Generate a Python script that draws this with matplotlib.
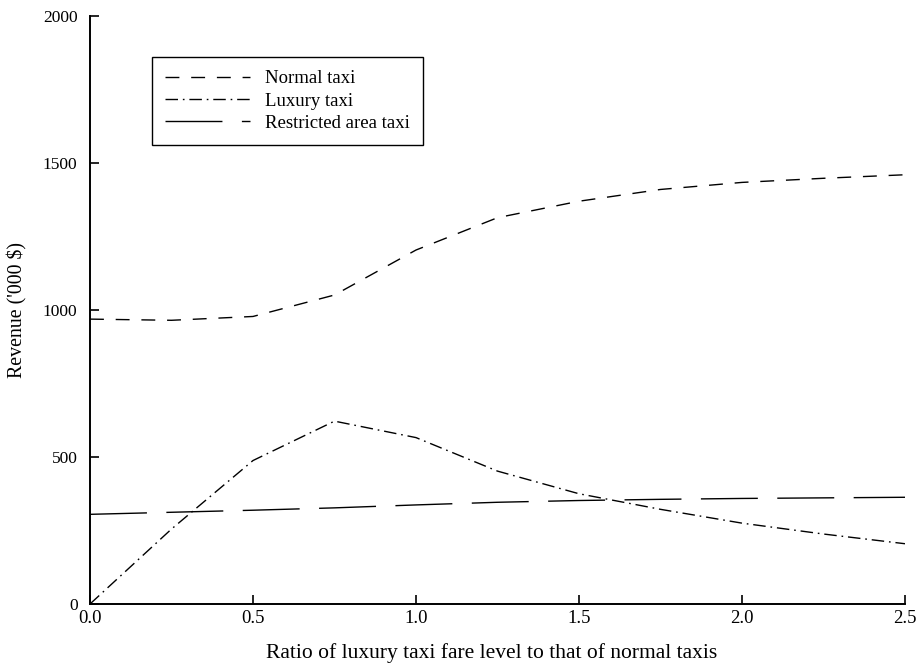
import matplotlib
matplotlib.use("Agg")
import matplotlib.pyplot as plt

plt.rcParams['font.family'] = ['Liberation Serif', 'DejaVu Serif']
plt.rcParams['lines.scale_dashes'] = False

# Fare ratio (luxury / normal) and revenue in thousand dollars
ratio = [0.0, 0.25, 0.5, 0.75, 1.0, 1.25, 1.5, 1.75, 2.0, 2.25, 2.5]
normal_taxi = [969, 965, 978, 1051, 1204, 1314, 1370, 1410, 1434, 1448, 1460]
luxury_taxi = [0, 255, 488, 622, 566, 452, 375, 322, 275, 238, 205]
restricted_taxi = [305, 312, 319, 327, 337, 346, 352, 356, 359, 361, 363]

labels = ["Normal taxi", "Luxury taxi", "Restricted area taxi"]
x_ticks = [0.0, 0.5, 1.0, 1.5, 2.0, 2.5]
y_ticks = [0, 500, 1000, 1500, 2000]

fig = plt.figure(figsize=(9.18, 6.65), dpi=100)
ax = fig.add_axes([90 / 918, 1 - 604 / 665, 815 / 918, 588 / 665])

ax.plot(ratio, normal_taxi, color='black', lw=1.0, linestyle=(0, (10, 8.5)), label=labels[0])
ax.plot(ratio, luxury_taxi, color='black', lw=1.0, linestyle=(0, (9, 3.5, 1.2, 3.5)), label=labels[1])
ax.plot(ratio, restricted_taxi, color='black', lw=1.0, linestyle=(0, (41, 14)), label=labels[2])

ax.set_xlim(0, 2.5)
ax.set_ylim(0, 2000)
ax.set_xticks(x_ticks)
ax.set_xticklabels([f"{v:.1f}" for v in x_ticks])
ax.set_yticks(y_ticks)
ax.set_yticklabels([str(v) for v in y_ticks])

for side in ('top', 'right'):
    ax.spines[side].set_visible(False)
for side in ('left', 'bottom'):
    ax.spines[side].set_linewidth(1.4)

ax.tick_params(direction='in', length=6.5, width=1.2, labelsize=12.5)
ax.tick_params(axis='x', labelsize=13.5, pad=4)
ax.tick_params(axis='y', pad=9)

ax.set_xlabel("Ratio of luxury taxi fare level to that of normal taxis", fontsize=15.5, labelpad=10)
ax.xaxis.set_label_coords(0.4926, -0.067)
ax.set_ylabel("Revenue ('000 $)", fontsize=14.3, labelpad=11)

leg = ax.legend(loc='upper left', bbox_to_anchor=(152 / 918, 1 - 57 / 665),
                bbox_transform=fig.transFigure, borderaxespad=0,
                fontsize=13.5, handlelength=4.5, handletextpad=0.85,
                labelspacing=0.28, fancybox=False, framealpha=1,
                edgecolor='black', borderpad=0.7)
leg.get_frame().set_linewidth(1.0)

fig.savefig("out.png", dpi=100)
